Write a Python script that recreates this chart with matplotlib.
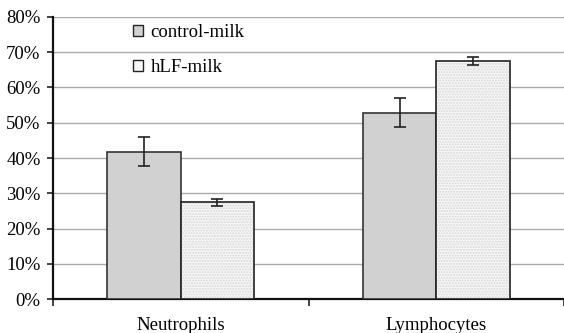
import numpy as np
import matplotlib.pyplot as plt
from matplotlib.patches import Patch

categories = ["Neutrophils", "Lymphocytes"]
series_names = ["control-milk", "hLF-milk"]
control_vals = [41.8, 52.9]
control_err = [4.2, 4.2]
hlf_vals = [27.4, 67.5]
hlf_err = [1.0, 1.1]
y_ticks = [0, 10, 20, 30, 40, 50, 60, 70, 80]

plt.rcParams["font.family"] = ["Liberation Serif", "DejaVu Serif"]
plt.rcParams["font.size"] = 13.5

fig = plt.figure(figsize=(5.64, 3.33), dpi=100)
ax = fig.add_axes([0.094, 0.102, 0.906, 0.847])

x = np.arange(len(categories))
w = 0.287

ax.bar(x - w / 2, control_vals, w, color="#d0d1d0", edgecolor="#333333",
       linewidth=1.2, zorder=3)
# dotted fill for hLF bars, then a plain outline on top
ax.bar(x + w / 2, hlf_vals, w, color="#f7f7f7", edgecolor="#d6d6d6",
       hatch="......", linewidth=0, zorder=3)
ax.bar(x + w / 2, hlf_vals, w, fill=False, edgecolor="#222222",
       linewidth=1.2, zorder=4)

ax.errorbar(x - w / 2, control_vals, yerr=control_err, fmt="none",
            ecolor="#222222", elinewidth=1.2, capsize=4, capthick=1.2, zorder=5)
ax.errorbar(x + w / 2, hlf_vals, yerr=hlf_err, fmt="none",
            ecolor="#222222", elinewidth=1.2, capsize=4, capthick=1.2, zorder=5)

ax.set_xlim(-0.5, 1.5)
ax.set_ylim(0, 80)
ax.set_yticks(y_ticks)
ax.set_yticklabels([f"{t}%" for t in y_ticks])
ax.yaxis.grid(True, color="#aaaaaa", linewidth=1.0, zorder=0)
ax.set_axisbelow(True)

ax.set_xticks(x)
ax.set_xticklabels(categories)
ax.tick_params(axis="x", length=0, pad=13)
ax.set_xticks([-0.5, 0.5, 1.5], minor=True)
ax.tick_params(axis="x", which="minor", length=5, width=1.2, color="#222222")
ax.tick_params(axis="y", length=4, width=1.2, color="#222222", pad=5)

for side in ["top", "right"]:
    ax.spines[side].set_visible(False)
for side in ["left", "bottom"]:
    ax.spines[side].set_linewidth(1.6)
    ax.spines[side].set_color("#111111")

handles = [
    Patch(facecolor="#d0d1d0", edgecolor="#222222", linewidth=1.0),
    Patch(facecolor="#f7f7f7", edgecolor="#222222", linewidth=1.0),
]
ax.legend(handles, series_names, loc="upper left", bbox_to_anchor=(0.123, 1.035),
          frameon=False, handlelength=0.55, handleheight=0.55, labelspacing=0.95,
          handletextpad=0.4, fontsize=13.5)

fig.savefig("out.png", dpi=100)
